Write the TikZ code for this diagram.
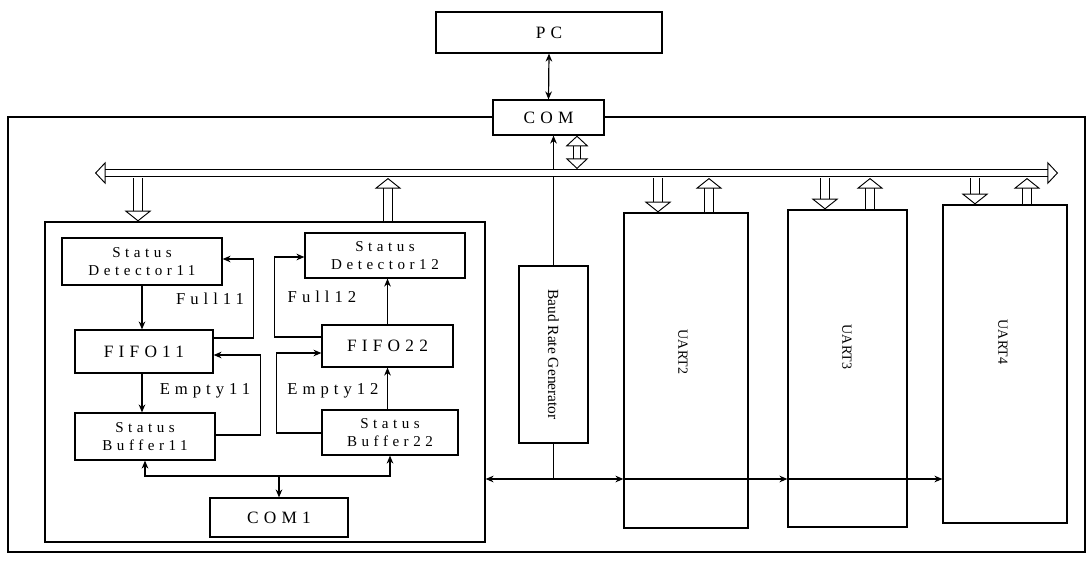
\documentclass[tikz,border=0pt]{standalone}
\usepackage{fontspec}
\setmainfont{Liberation Serif}
\newfontfamily\spacedfont[LetterSpace=30]{Liberation Serif}
\usetikzlibrary{arrows.meta,calc}
\def\u{0.75pt}
\tikzset{
  box/.style={draw, line width=0.9pt, fill=white, inner sep=0pt, align=center,
    font={\spacedfont\fontsize{11.3}{13}\selectfont}},
  bigbox/.style={box, font={\spacedfont\fontsize{13}{15}\selectfont}},
  arr/.style={line width=0.9pt, -{Stealth[length=6pt,width=5pt]}},
  plain/.style={line width=0.9pt},
  hol/.style={line width=0.7pt, double=white, double distance=6pt,
    -{Triangle[open,length=8pt,width=20pt,line width=0.7pt]}},
  holtwo/.style={line width=0.7pt, double=white, double distance=5pt,
    {Triangle[open,length=8pt,width=17pt,line width=0.7pt]}-{Triangle[open,length=8pt,width=17pt,line width=0.7pt]}},
  lbl/.style={font={\spacedfont\fontsize{12.5}{14}\selectfont}, inner sep=0pt},
  rot/.style={rotate=-90, inner sep=0pt, font={\fontsize{10.5}{12}\selectfont}}
}
\begin{document}
\begin{tikzpicture}[x=0.75pt, y=-0.75pt]
\useasboundingbox (0,0) rectangle (1088,565);
% outer frame
\draw[line width=1.1pt] (8,117) rectangle (1085,552);
% top
\node[bigbox, minimum width=226*\u, minimum height=41*\u] (PC) at (549,32.5) {PC};
\node[bigbox, minimum width=111*\u, minimum height=35*\u] (COM) at (548.5,117.5) {COM};
\draw[line width=0.9pt, {Stealth[length=6pt,width=5pt]}-{Stealth[length=6pt,width=5pt]}] (PC.south) -- (COM.north);
% left block
\node[draw, line width=0.9pt, minimum width=440*\u, minimum height=320*\u, inner sep=0pt] (LB) at (265,382) {};
\node[box, minimum width=160*\u, minimum height=47*\u] (SD11) at (142,261.5) {Status\\Detector11};
\node[box, minimum width=160*\u, minimum height=45*\u] (SD12) at (385,255.5) {Status\\Detector12};
\node[bigbox, minimum width=138*\u, minimum height=43*\u] (F11) at (144,351.5) {FIFO11};
\node[bigbox, minimum width=131*\u, minimum height=42*\u] (F22) at (387.5,346) {FIFO22};
\node[box, minimum width=140*\u, minimum height=47*\u] (SB11) at (145,436.5) {Status\\Buffer11};
\node[box, minimum width=136*\u, minimum height=45*\u] (SB22) at (390,432.5) {Status\\Buffer22};
\node[bigbox, minimum width=138*\u, minimum height=39*\u] (COM1) at (279,517.5) {COM1};
% labels
\node[lbl] (lf11) at (210,299) {Full11};
\node[lbl] (le11) at (205,391) {Empty11};
\node[lbl] (lf12) at (322,297) {Full12};
\node[lbl] (le12) at (333,391) {Empty12};
% vertical arrows
\draw[arr] (SD11.south) -- (SD11.south |- F11.north);
\draw[arr] (SD11.south |- F11.south) -- (SD11.south |- SB11.north);
\draw[arr] (F22.north) -- (F22.north |- SD12.south);
\draw[arr] (F22.south |- SB22.north) -- (F22.south);
% loops
\draw[arr] ($(F11.east)+(0,-13.5)$) -- ++(40,0) |- ($(SD11.east)+(0,-2.5)$);
\draw[arr] ($(SB11.east)+(0,-1.5)$) -- ++(45,0) |- ($(F11.east)+(0,3.5)$);
\draw[arr] ($(F22.west)+(0,-9)$) -- ++(-47,0) |- ($(SD12.west)+(0,1.5)$);
\draw[arr] ($(SB22.west)+(0,0.5)$) -- ++(-45,0) |- ($(F22.west)+(0,7)$);
% COM1 links
\coordinate (cj) at (279,476);
\draw[arr] (cj) -- (COM1.north);
\draw[arr] (cj) -| (SB11.south);
\draw[arr] (cj) -| (SB22.south);
% baud rate generator
\node[draw, line width=0.9pt, fill=white, minimum width=69*\u, minimum height=177*\u, inner sep=0pt] (BRG) at (553.5,354.5) {};
\node[rot, font={\fontsize{11.6}{13}\selectfont}] (BRGt) at (BRG.center) {Baud Rate Generator};
\draw[arr] (BRG.north) -- (BRG.north |- COM.south);
% UARTs
\node[draw, line width=0.9pt, minimum width=124*\u, minimum height=315*\u, inner sep=0pt] (U2) at (686,370.5) {};
\node[draw, line width=0.9pt, minimum width=119*\u, minimum height=317*\u, inner sep=0pt] (U3) at (847.5,368.5) {};
\node[draw, line width=0.9pt, minimum width=124*\u, minimum height=318*\u, inner sep=0pt] (U4) at (1005,364) {};
\node[rot] (U2t) at (683,352) {UART2};
\node[rot] (U3t) at (847,347) {UART3};
\node[rot] (U4t) at (1003,342) {UART4};
% baud distribution
\coordinate (bj) at (553.5,479);
\draw[plain] (BRG.south) -- (bj);
\draw[arr] (bj) -- (bj -| LB.east);
\draw[arr] (bj) -- (bj -| U2.west);
\draw[arr] (bj -| U2.west) -- (bj -| U3.west);
\draw[arr] (bj -| U3.west) -- (bj -| U4.west);
% bus
\coordinate (busL) at (95,173);
\coordinate (busR) at (1058,173);
\draw[holtwo] (busL) -- (busR);
\coordinate (tc) at (577,169);
\draw[holtwo] (tc |- COM.south) -- (tc);
\coordinate (t1) at (138,178);
\coordinate (t2) at (388,178);
\coordinate (t3) at (658,178);
\coordinate (t4) at (709,178);
\coordinate (t5) at (825,178);
\coordinate (t6) at (870,178);
\coordinate (t7) at (975,178);
\coordinate (t8) at (1027,178);
\draw[hol] (t1) -- (t1 |- LB.north);
\draw[hol] (t2 |- LB.north) -- (t2);
\draw[hol] (t3) -- (t3 |- U2.north);
\draw[hol] (t4 |- U2.north) -- (t4);
\draw[hol] (t5) -- (t5 |- U3.north);
\draw[hol] (t6 |- U3.north) -- (t6);
\draw[hol] (t7) -- (t7 |- U4.north);
\draw[hol] (t8 |- U4.north) -- (t8);
\end{tikzpicture}
\end{document}
